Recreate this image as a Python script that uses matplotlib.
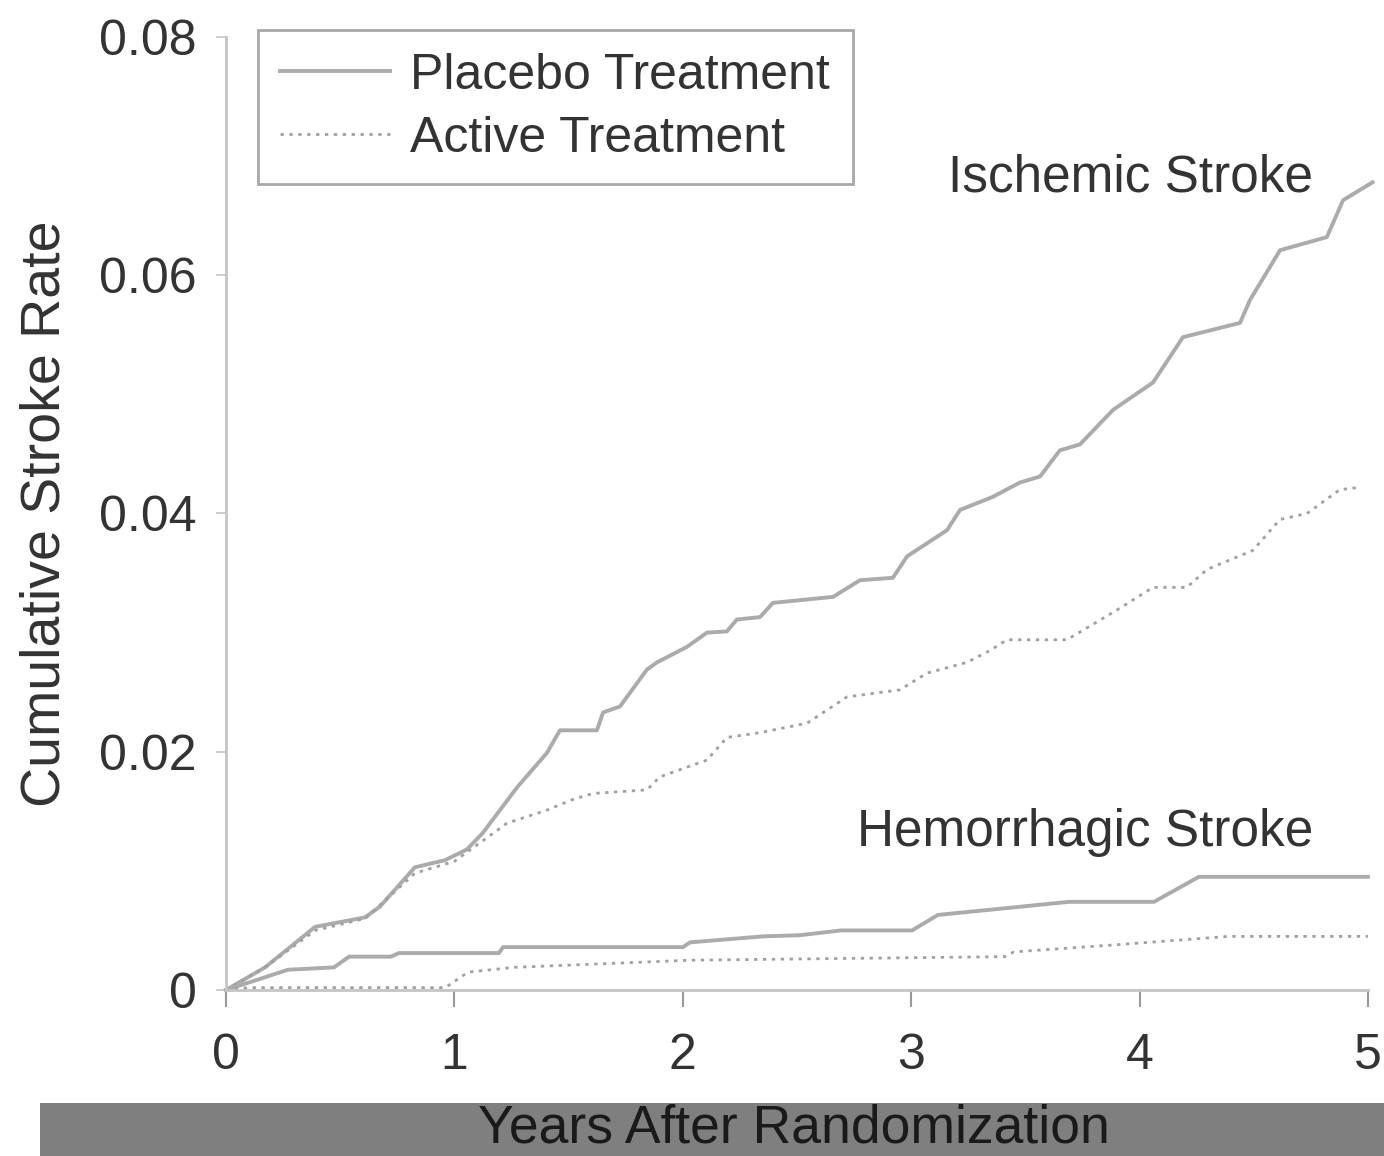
import matplotlib

matplotlib.use("Agg")
import matplotlib.pyplot as plt
from matplotlib.patches import Rectangle

# cumulative stroke rate by years after randomization
isch_placebo_t = [0.0, 0.171, 0.39, 0.609, 0.674, 0.827, 0.959, 1.055, 1.125, 1.274, 1.405, 1.462,
                  1.624, 1.651, 1.725, 1.843, 1.887, 2.018, 2.106, 2.193, 2.237, 2.338, 2.395,
                  2.658, 2.776, 2.92, 2.982, 3.157, 3.214, 3.358, 3.476, 3.564, 3.651, 3.739,
                  3.884, 4.059, 4.19, 4.44, 4.483, 4.615, 4.82, 4.891, 5.02]
isch_placebo_y = [0.0, 0.0019, 0.0053, 0.0061, 0.007, 0.0103, 0.0109, 0.0118, 0.0132, 0.017,
                  0.0199, 0.0218, 0.0218, 0.0233, 0.0238, 0.0269, 0.0275, 0.0288, 0.03, 0.0301,
                  0.0311, 0.0313, 0.0325, 0.033, 0.0344, 0.0346, 0.0364, 0.0386, 0.0403, 0.0414,
                  0.0426, 0.0431, 0.0453, 0.0458, 0.0487, 0.051, 0.0548, 0.056, 0.0579, 0.0621,
                  0.0632, 0.0663, 0.0678]

isch_active_t = [0.0, 0.171, 0.39, 0.609, 0.827, 1.0, 1.23, 1.405, 1.519, 1.607, 1.843, 1.9, 2.106,
                 2.193, 2.338, 2.544, 2.719, 2.951, 3.069, 3.244, 3.345, 3.419, 3.682, 3.884,
                 4.059, 4.207, 4.295, 4.496, 4.615, 4.733, 4.877, 4.965]
isch_active_y = [0.0, 0.0019, 0.005, 0.006, 0.0098, 0.0108, 0.014, 0.0151, 0.016, 0.0165, 0.0168,
                 0.0179, 0.0193, 0.0212, 0.0216, 0.0224, 0.0246, 0.0252, 0.0266, 0.0275, 0.0285,
                 0.0294, 0.0294, 0.0317, 0.0338, 0.0338, 0.0353, 0.0369, 0.0395, 0.04, 0.042,
                 0.0422]

hem_placebo_t = [0.0, 0.271, 0.473, 0.539, 0.722, 0.757, 1.195, 1.213, 2.001, 2.032, 2.351,
                 2.513, 2.693, 3.004, 3.117, 3.691, 4.063, 4.26, 5.0]
hem_placebo_y = [0.0, 0.0017, 0.0019, 0.0028, 0.0028, 0.0031, 0.0031, 0.0036, 0.0036, 0.004,
                 0.0045, 0.0046, 0.005, 0.005, 0.0063, 0.0074, 0.0074, 0.0095, 0.0095]

hem_active_t = [0.0, 0.1, 0.96, 1.06, 1.26, 2.03, 3.41, 3.45, 3.9, 4.39, 5.0]
hem_active_y = [0.0, 0.0002, 0.0002, 0.0015, 0.0019, 0.0025, 0.0028, 0.0032, 0.0038, 0.0045,
                0.0045]

x_ticks = [0, 1, 2, 3, 4, 5]
y_ticks = [0, 0.02, 0.04, 0.06, 0.08]
y_tick_labels = ["0", "0.02", "0.04", "0.06", "0.08"]

plt.rcParams["font.family"] = ["Liberation Sans", "DejaVu Sans"]
TEXT = "#333333"
AXIS = "#c4c4c4"
SOLID = "#ababab"
DOTTED = "#a0a0a0"
DOTS = (0, (1.2, 2.0))

fig = plt.figure(figsize=(13.84, 11.56), dpi=100)
ax = fig.add_axes([0.1633, 0.1436, 0.8251, 0.8244])

ax.plot(isch_placebo_t, isch_placebo_y, color=SOLID, lw=2.8, clip_on=False,
        label="Placebo Treatment")
ax.plot(isch_active_t, isch_active_y, color=DOTTED, lw=2.0, ls=DOTS, clip_on=False,
        label="Active Treatment")
ax.plot(hem_placebo_t, hem_placebo_y, color=SOLID, lw=2.8, clip_on=False)
ax.plot(hem_active_t, hem_active_y, color=DOTTED, lw=2.0, ls=DOTS, clip_on=False)

ax.text(4.76, 0.0682, "Ischemic Stroke", ha="right", va="center", fontsize=37, color=TEXT)
ax.text(4.76, 0.0132, "Hemorrhagic Stroke", ha="right", va="center", fontsize=37, color=TEXT)

ax.set_xlim(0, 5)
ax.set_ylim(0, 0.08)
ax.set_xticks(x_ticks)
ax.set_xticklabels([str(v) for v in x_ticks])
ax.set_yticks(y_ticks)
ax.set_yticklabels(y_tick_labels)
ax.tick_params(axis="x", direction="out", length=12, width=1.5, color="#9a9a9a",
               labelsize=36, labelcolor=TEXT, pad=19)
ax.tick_params(axis="y", direction="out", length=7, width=1.2, color=AXIS,
               labelsize=36, labelcolor=TEXT, pad=14)
for side in ("top", "right"):
    ax.spines[side].set_visible(False)
for side in ("left", "bottom"):
    ax.spines[side].set_color(AXIS)
    ax.spines[side].set_linewidth(2)

ax.set_ylabel("Cumulative Stroke Rate", fontsize=40, color=TEXT, labelpad=20)

leg = ax.legend(loc="upper left", bbox_to_anchor=(0.1864, 0.974), bbox_transform=fig.transFigure,
                borderaxespad=0, fontsize=36, handlelength=2.2, handletextpad=0.4,
                labelspacing=0.34, borderpad=0.45, fancybox=False, framealpha=1)
leg.get_frame().set_edgecolor("#a8a8a8")
leg.get_frame().set_linewidth(2)
for t in leg.get_texts():
    t.set_color(TEXT)

# gray band with the x axis title
fig.patches.append(Rectangle((0.0289, 0.0), 0.9711, 0.0458, transform=fig.transFigure,
                             facecolor="#7f7f7f", edgecolor="none", zorder=0))
fig.text(0.574, 0.0235, "Years After Randomization", ha="center", va="center", fontsize=38.5,
         color="#1a1a1a")

fig.savefig("out.png", dpi=100)
